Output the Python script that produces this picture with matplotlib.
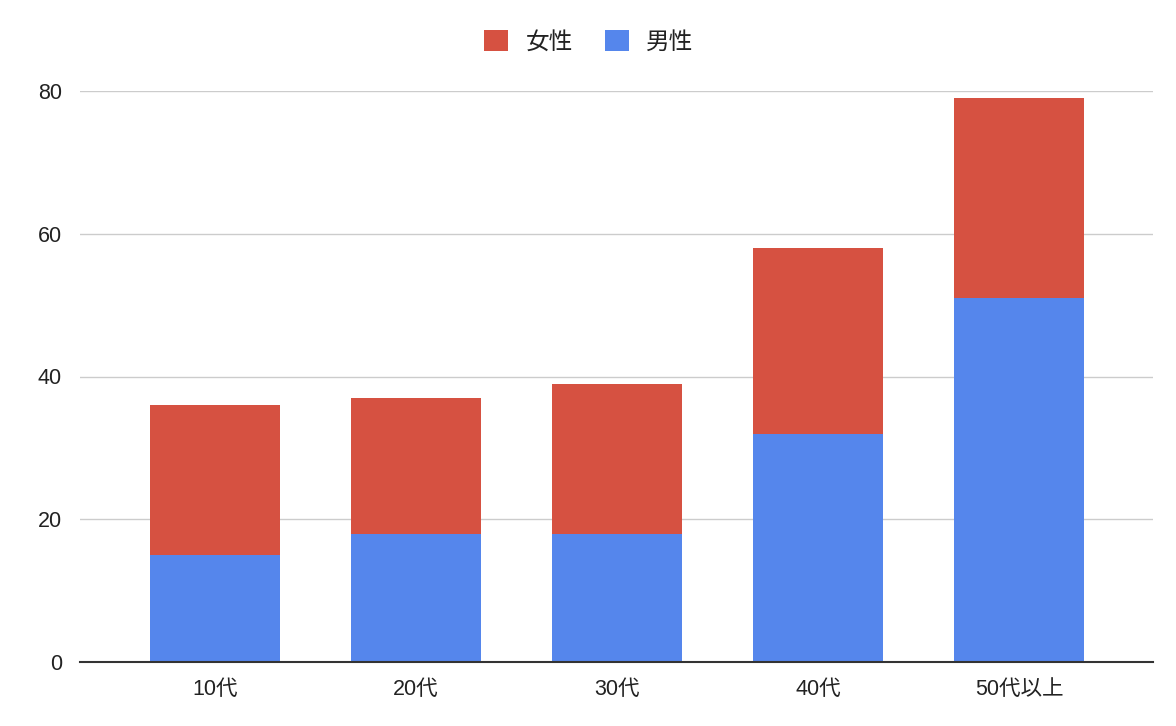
import matplotlib
matplotlib.use("Agg")
import matplotlib.pyplot as plt
from matplotlib.patches import Patch

categories = ["10代", "20代", "30代", "40代", "50代以上"]
male = [15, 18, 18, 32, 51]
female = [21, 19, 21, 26, 28]

plt.rcParams['font.family'] = ['Liberation Sans', 'Noto Sans CJK JP', 'DejaVu Sans']

RED = "#D65141"
BLUE = "#5586EC"

fig = plt.figure(figsize=(11.76, 7.26), dpi=100)
ax = fig.add_axes([80/1176, 64/726, (1153-80)/1176, (662-91)/726])

x = list(range(len(categories)))
ax.bar(x, male, width=0.647, color=BLUE, zorder=3)
ax.bar(x, female, bottom=male, width=0.647, color=RED, zorder=3)

ax.set_xlim(-0.672, 4.667)
ax.set_ylim(0, 80)
ax.set_yticks([0, 20, 40, 60, 80])
ax.set_xticks(x)
ax.set_xticklabels(categories)
ax.yaxis.grid(True, color="#CCCCCC", linewidth=1, zorder=0)
ax.set_axisbelow(True)
for s in ["top", "right", "left"]:
    ax.spines[s].set_visible(False)
ax.spines["bottom"].set_color("#333333")
ax.spines["bottom"].set_linewidth(1.5)
ax.spines["bottom"].set_zorder(4)
ax.tick_params(axis="both", length=0, labelsize=15.5, colors="#222222")
ax.tick_params(axis="y", pad=13)
ax.tick_params(axis="x", pad=12)

handles = [Patch(facecolor=RED, edgecolor="none"), Patch(facecolor=BLUE, edgecolor="none")]
fig.legend(handles, ["女性", "男性"], loc="center", bbox_to_anchor=(589/1176, 1-42/726),
           ncol=2, frameon=False, fontsize=17, handlelength=1.0, handleheight=1.0,
           handletextpad=0.75, columnspacing=1.35, labelcolor="#222222")

fig.savefig("out.png", dpi=100)
